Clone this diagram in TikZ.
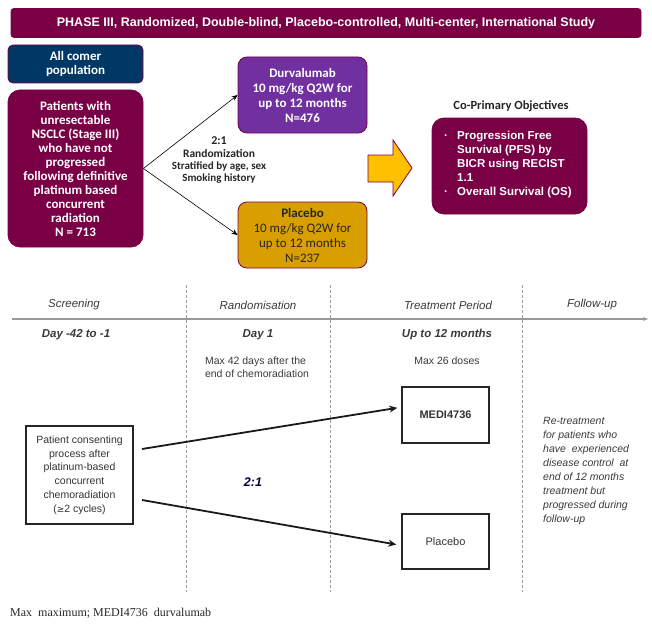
\documentclass[tikz,border=0pt]{standalone}
\usepackage{fontspec}
\setmainfont{Liberation Sans}
\newfontfamily\calfnt{Carlito}
\newfontfamily\tmsfnt{Liberation Serif}
\newfontfamily\djvfnt{DejaVu Sans}
\usetikzlibrary{arrows.meta}
\definecolor{maroon}{HTML}{7A0046}
\definecolor{navy}{HTML}{003865}
\definecolor{purp}{HTML}{7030A0}
\definecolor{gold}{HTML}{D99E00}
\definecolor{yel}{HTML}{FFC000}
\definecolor{tgrey}{HTML}{3A3A3A}
\definecolor{lgrey}{HTML}{999999}
\tikzset{
  rbox/.style={rounded corners=#1, draw=maroon, line width=0.8pt, align=center, inner sep=0pt},
  wbox/.style={draw=black!85, line width=1.6pt, align=center, inner sep=0pt, text=black!80},
  dline/.style={lgrey, line width=0.9pt, dash pattern=on 3pt off 2pt},
  arr/.style={-{Stealth[length=6pt,width=5pt]}, line width=0.6pt, black},
  barr/.style={-{Stealth[length=8pt,width=7pt]}, line width=1.8pt, black!90},
  phase/.style={font=\fontsize{11.5}{12}\selectfont\itshape, text=tgrey},
  dayt/.style={font=\fontsize{11.5}{12}\selectfont\itshape\bfseries, text=tgrey},
  small/.style={font=\fontsize{10.5}{13.5}\selectfont, text=tgrey, align=center},
}
\begin{document}
\begin{tikzpicture}[x=1pt,y=-1pt]
\useasboundingbox (0,0) rectangle (652,623);
% header
\node[rbox=3pt, fill=maroon, minimum width=630pt, minimum height=29pt, text=white,
  font=\fontsize{12.5}{13}\selectfont\bfseries] (hdr) at (326,23)
  {PHASE III, Randomized, Double-blind, Placebo-controlled, Multi-center, International Study};
% all comer
\node[rbox=5pt, fill=navy, minimum width=135pt, minimum height=38pt, text=white,
  font=\calfnt\fontsize{13}{14}\selectfont\bfseries] (allc) at (75.5,64)
  {All comer\\population};
% patients
\node[rbox=12pt, fill=maroon, minimum width=135pt, minimum height=157pt, text=white,
  font=\calfnt\fontsize{13}{14}\selectfont\bfseries] (pat) at (75.5,168.5)
  {Patients with\\unresectable\\NSCLC (Stage III)\\who have not\\progressed\\following definitive\\platinum based\\concurrent\\radiation\\N = 713};
% durvalumab
\node[rbox=9pt, fill=purp, minimum width=129pt, minimum height=76pt, text=white,
  font=\calfnt\fontsize{13}{15}\selectfont\bfseries] (durv) at (302.5,95)
  {Durvalumab\\10 mg/kg Q2W for\\up to 12 months\\N=476};
% placebo
\node[rbox=9pt, fill=gold, minimum width=129pt, minimum height=66pt, text=black!85,
  font=\calfnt\fontsize{13}{15}\selectfont] (plac) at (302.5,235)
  {\textbf{Placebo}\\10 mg/kg Q2W for\\up to 12 months\\N=237};
% randomization text
\node[align=center, inner sep=0pt, text=black!85, font=\calfnt\bfseries] (rand) at (219,160)
  {{\fontsize{12}{14}\selectfont 2:1}\\[1pt]{\fontsize{11.5}{14}\selectfont Randomization}\\{\fontsize{11}{14}\selectfont Stratified by age, sex}\\{\fontsize{11}{14}\selectfont Smoking history}};
\draw[arr] (pat.east) -- (durv.west);
\draw[arr] (pat.east) -- (plac.west);
% big arrow
\draw[fill=yel, draw=maroon, line width=0.8pt] (368,155) -- (393,155) -- (393,140) -- (412,168) -- (393,196) -- (393,182) -- (368,182) -- cycle;
% objectives
\node[inner sep=0pt, text=black!85, font=\calfnt\fontsize{12.5}{13}\selectfont\bfseries] (objt) at (511,106) {Co-Primary Objectives};
\node[rbox=12pt, fill=maroon, minimum width=155pt, minimum height=96pt] (obj) at (509.5,166) {};
\node[anchor=north west, inner sep=0pt, align=left, text=white,
  font=\fontsize{11.5}{14}\selectfont\bfseries] (objl) at (444,131)
  {\makebox[13pt][l]{\textperiodcentered}Progression Free\\
   \hspace*{13pt}Survival (PFS) by\\
   \hspace*{13pt}BICR using RECIST\\
   \hspace*{13pt}1.1\\
   \makebox[13pt][l]{\textperiodcentered}Overall Survival (OS)};
% timeline
\coordinate (t0) at (12,319);
\coordinate (t1) at (648,319);
\draw[-{Stealth[length=5pt,width=4pt]}, lgrey, line width=1.2pt] (t0) -- (t1);
\coordinate (d1a) at (186,285); \coordinate (d1b) at (186,592);
\coordinate (d2a) at (330,285); \coordinate (d2b) at (330,592);
\coordinate (d3a) at (522,285); \coordinate (d3b) at (522,592);
\draw[dline] (d1a) -- (d1b);
\draw[dline] (d2a) -- (d2b);
\draw[dline] (d3a) -- (d3b);
\node[phase] (p1) at (74,305) {Screening};
\node[phase] (p2) at (258,305) {Randomisation};
\node[phase] (p3) at (448,305) {Treatment Period};
\node[phase] (p4) at (592,305) {Follow-up};
\node[dayt] (dy1) at (76,335) {Day -42 to -1};
\node[dayt] (dy2) at (258,335) {Day 1};
\node[dayt] (dy3) at (447,335) {Up to 12 months};
\node[small, align=left] (mx1) at (257,367) {Max 42 days after the\\end of chemoradiation};
\node[small] (mx2) at (447,361) {Max 26 doses};
% bottom boxes
\node[wbox, minimum width=107pt, minimum height=98pt, font=\fontsize{10.5}{13.8}\selectfont] (cons) at (79.5,475)
  {Patient consenting\\process after\\platinum-based\\concurrent\\chemoradiation\\({\djvfnt\fontsize{9}{12}\selectfont ≥}2 cycles)};
\node[wbox, minimum width=87pt, minimum height=56pt, font=\fontsize{11}{12}\selectfont\bfseries] (medi) at (445.5,415) {MEDI4736};
\node[wbox, minimum width=87pt, minimum height=55pt, font=\fontsize{11}{12}\selectfont] (placb) at (445.5,541.5) {Placebo};
\coordinate (s1) at (142,449);
\coordinate (s2) at (142,500);
\draw[barr, shorten >=4pt] (s1) -- (medi.170);
\draw[barr, shorten >=5pt] (s2) -- (placb.185);
\node[inner sep=0pt, font=\fontsize{12.5}{13}\selectfont\itshape\bfseries, text=black!75!blue] (r21) at (253,482) {2:1};
\node[anchor=north west, inner sep=0pt, align=left, text=tgrey,
  font=\fontsize{10.5}{14}\selectfont\itshape] (retr) at (543,417)
  {Re-treatment\\for patients who\\have\ \ experienced\\disease control\ \ at\\end of 12 months\\treatment but\\progressed during\\follow-up};
% footer
\node[anchor=west, inner sep=0pt, font=\tmsfnt\fontsize{12}{13}\selectfont, text=black!85] (foot) at (10,613)
  {Max\ \ maximum; MEDI4736\ \ durvalumab};
\end{tikzpicture}
\end{document}
